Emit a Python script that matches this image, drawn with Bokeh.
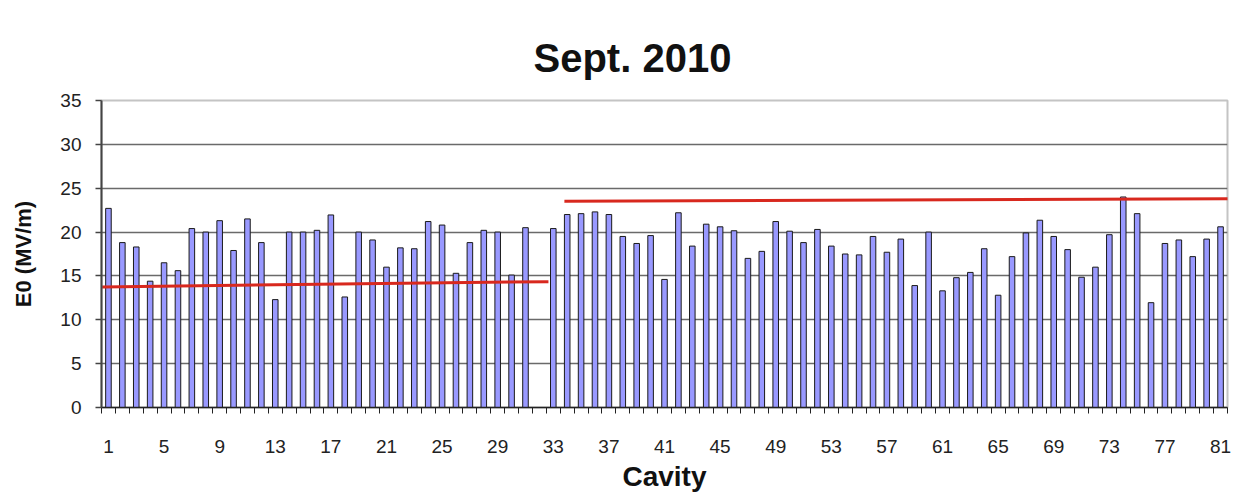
from bokeh.plotting import figure
from bokeh.models import Range1d, FixedTicker, ColumnDataSource, BoxAnnotation
from bokeh.embed import file_html
from bokeh.resources import INLINE

# Cavity numbers (cavity 32 has no bar)
cavity = [1, 2, 3, 4, 5, 6, 7, 8, 9, 10, 11, 12, 13, 14, 15, 16, 17, 18, 19, 20,
          21, 22, 23, 24, 25, 26, 27, 28, 29, 30, 31, 33, 34, 35, 36, 37, 38, 39, 40,
          41, 42, 43, 44, 45, 46, 47, 48, 49, 50, 51, 52, 53, 54, 55, 56, 57, 58, 59, 60,
          61, 62, 63, 64, 65, 66, 67, 68, 69, 70, 71, 72, 73, 74, 75, 76, 77, 78, 79, 80, 81]
e0 = [22.7, 18.8, 18.3, 14.4, 16.5, 15.6, 20.4, 20.0, 21.3, 17.9,
      21.5, 18.8, 12.3, 20.0, 20.0, 20.2, 21.95, 12.6, 20.0, 19.1,
      16.0, 18.2, 18.1, 21.2, 20.8, 15.3, 18.8, 20.2, 20.0, 15.1, 20.5,
      20.4, 22.0, 22.1, 22.3, 22.0, 19.5, 18.7, 19.6,
      14.6, 22.2, 18.4, 20.9, 20.6, 20.15, 17.0, 17.8, 21.2, 20.1,
      18.8, 20.3, 18.4, 17.5, 17.4, 19.5, 17.7, 19.2, 13.9, 20.0,
      13.3, 14.8, 15.4, 18.1, 12.8, 17.2, 19.9, 21.35, 19.5, 18.0,
      14.85, 16.0, 19.7, 24.0, 22.1, 11.95, 18.7, 19.1, 17.2, 19.2, 20.6]

# Red trend lines (two groups of cavities)
trend1_x = [0.55, 32.65]
trend1_y = [13.75, 14.35]
trend2_x = [33.8, 82.2]
trend2_y = [23.5, 23.8]

x_tick_labels = [1, 5, 9, 13, 17, 21, 25, 29, 33, 37, 41, 45, 49, 53, 57, 61, 65, 69, 73, 77, 81]
y_ticks = [0, 5, 10, 15, 20, 25, 30, 35]

FONT = "Liberation Sans"

p = figure(width=1242, height=496, output_backend="svg", toolbar_location=None,
           x_range=Range1d(0.5, 81.5), y_range=Range1d(0, 35),
           min_border_left=101, min_border_top=100, min_border_right=15, min_border_bottom=89,
           title="Sept. 2010")

p.title.text_font = FONT
p.title.text_font_size = "40px"
p.title.text_font_style = "bold"
p.title.text_color = "#111111"
p.title.align = "left"
p.title.offset = 432
p.title.standoff = 42

# outer chart-area border
p.add_layout(BoxAnnotation(left=6, right=1270, top=8, bottom=494,
                           left_units="canvas", right_units="canvas",
                           top_units="canvas", bottom_units="canvas",
                           fill_color=None, line_color="#9a9a9a", line_width=2))

src = ColumnDataSource(dict(x=cavity, top=e0))
p.vbar(x="x", top="top", bottom=0, width=0.4, source=src,
       fill_color="#9999ff", line_color="#1a1a1a", line_width=1)

p.line(trend1_x, trend1_y, line_color="#d8281e", line_width=3)
p.line(trend2_x, trend2_y, line_color="#d8281e", line_width=3)

# grid
p.xgrid.grid_line_color = None
p.ygrid.grid_line_color = "#6a6a6a"
p.ygrid.grid_line_width = 1.5
p.outline_line_color = "#c4c4c4"
p.outline_line_width = 2
p.background_fill_color = "white"

# x axis
xax = p.xaxis[0]
xax.ticker = FixedTicker(ticks=x_tick_labels,
                         minor_ticks=[c - 0.5 for c in range(1, 83)])
xax.axis_label = "Cavity"
xax.axis_label_text_font = FONT
xax.axis_label_text_font_size = "28px"
xax.axis_label_text_font_style = "bold"
xax.axis_label_text_color = "#111111"
xax.axis_label_standoff = 5
xax.major_label_text_font = FONT
xax.major_label_text_font_size = "19px"
xax.major_label_text_color = "#222222"
xax.major_tick_line_color = None
xax.major_tick_out = 0
xax.major_tick_in = 0
xax.minor_tick_out = 6
xax.minor_tick_in = 0
xax.minor_tick_line_color = "#222222"
xax.minor_tick_line_width = 1
xax.major_label_standoff = 26
xax.axis_line_color = "#222222"
xax.axis_line_width = 1.5

# y axis
yax = p.yaxis[0]
yax.ticker = FixedTicker(ticks=y_ticks, minor_ticks=[])
yax.axis_label = "E0 (MV/m)"
yax.axis_label_text_font = FONT
yax.axis_label_text_font_size = "22px"
yax.axis_label_text_font_style = "bold"
yax.axis_label_text_color = "#111111"
yax.axis_label_standoff = 21
yax.major_label_text_font = FONT
yax.major_label_text_font_size = "19px"
yax.major_label_text_color = "#222222"
yax.major_tick_out = 6
yax.major_tick_in = 0
yax.major_tick_line_color = "#444444"
yax.major_tick_line_width = 1.5
yax.minor_tick_line_color = None
yax.major_label_standoff = 14
yax.axis_line_color = "#444444"
yax.axis_line_width = 2

open("out.html", "w").write(file_html(p, INLINE))
